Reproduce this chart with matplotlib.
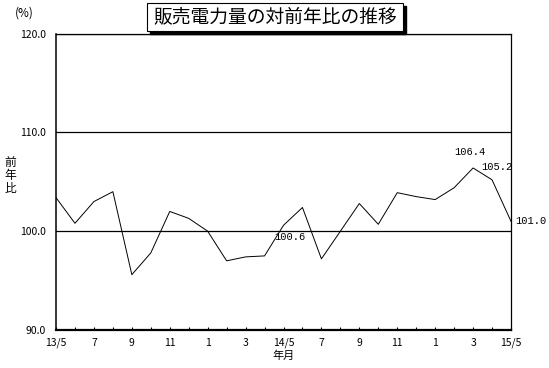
import matplotlib
matplotlib.use("Agg")
import matplotlib.pyplot as plt
from matplotlib.patches import Rectangle
from matplotlib.ticker import MultipleLocator

plt.rcParams['font.family'] = ['Noto Sans CJK JP', 'DejaVu Sans']

# year-on-year ratio of electricity sales (%), monthly 13/5 .. 15/5
ratio = [103.4, 100.8, 103.0, 104.0, 95.6, 97.8, 102.0, 101.3, 100.0, 97.0,
         97.4, 97.5, 100.6, 102.4, 97.2, 100.0, 102.8, 100.7, 103.9, 103.5,
         103.2, 104.4, 106.4, 105.2, 101.0]
tick_labels = ["13/5", "7", "9", "11", "1", "3", "14/5", "7", "9", "11", "1", "3", "15/5"]
y_ticks = [90, 100, 110, 120]
labelled = [12, 22, 23, 24]  # points that carry a value label

title = "販売電力量の対前年比の推移"

W, H = 549, 368
fig = plt.figure(figsize=(W / 100, H / 100), dpi=100)
ax = fig.add_axes([56 / W, 1 - 330 / H, (511 - 56) / W, (330 - 33.6) / H])

months = list(range(len(ratio)))
ax.plot(months, ratio, color="black", linewidth=0.7)

# --- axes ---
ax.set_xlim(0, len(ratio) - 1)
ax.set_ylim(90, 120)
ax.set_xticks(months[::2])
ax.set_xticklabels(tick_labels, fontsize=7.5)
ax.xaxis.set_minor_locator(MultipleLocator(1))
ax.tick_params(axis="x", which="both", direction="in", length=2.5, width=0.8, pad=5.5)
ax.set_yticks(y_ticks)
ax.set_yticklabels([f"{v:.1f}" for v in y_ticks], fontsize=7.5)
ax.tick_params(axis="y", length=0, pad=7.5)
ax.grid(axis="y", color="black", linewidth=0.9)
ax.set_axisbelow(True)

for side, lw in [("left", 1.1), ("bottom", 1.6), ("right", 0.9), ("top", 0.9)]:
    ax.spines[side].set_linewidth(lw)
    ax.spines[side].set_color("black")

ax.set_xlabel("年月", fontsize=8, labelpad=1.5)
fig.text(10 / W, 1 - 175 / H, "前\n年\n比", fontsize=8.5, ha="center", va="center",
         linespacing=1.0)
fig.text(24 / W, 1 - 13 / H, "(%)", fontsize=8.5, ha="center", va="center")

# --- value labels ---
offsets = {12: (4.5, -8.5, "center"), 22: (-2, 11.5, "center"),
           23: (3.5, 9, "center"), 24: (3, 0, "left")}
for i in labelled:
    dx, dy, ha = offsets[i]
    ax.annotate(f"{ratio[i]:.1f}", (months[i], ratio[i]), xytext=(dx, dy),
                textcoords="offset points", ha=ha, va="center",
                fontsize=7.5, family="Liberation Mono", annotation_clip=False)

# --- title box with shadow ---
bx0, bx1, by0, by1 = 147, 403, 3, 31
fig.patches.append(Rectangle(((bx0 + 3) / W, 1 - (by1 + 3) / H), (bx1 - bx0) / W,
                             (by1 - by0) / H, transform=fig.transFigure,
                             facecolor="black", edgecolor="black", zorder=5))
fig.patches.append(Rectangle((bx0 / W, 1 - by1 / H), (bx1 - bx0) / W, (by1 - by0) / H,
                             transform=fig.transFigure, facecolor="white",
                             edgecolor="black", linewidth=0.8, zorder=6))
fig.text((bx0 + bx1) / 2 / W, 1 - (by0 + by1) / 2 / H, title, fontsize=13.5,
         ha="center", va="center", style="italic", zorder=7)

fig.savefig("out.png", dpi=100)
